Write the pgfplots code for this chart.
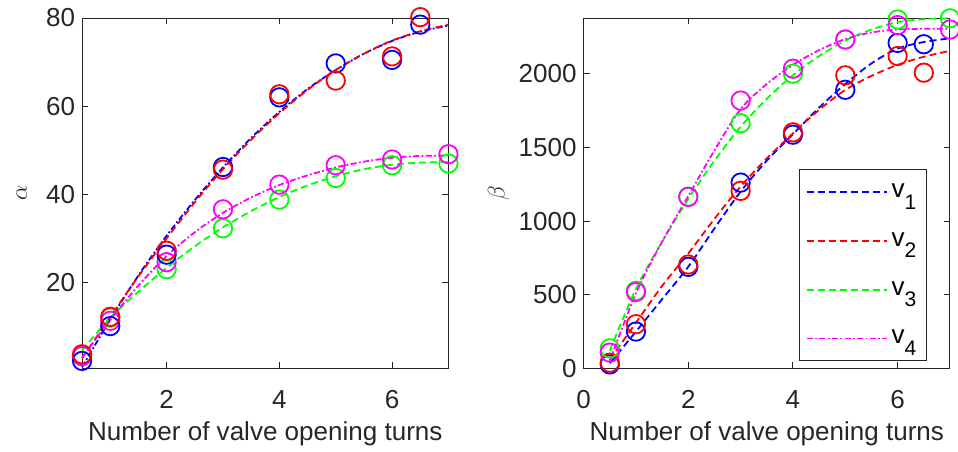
\documentclass[border=0pt]{standalone}
\usepackage{pgfplots}
\pgfplotsset{compat=1.18}
\usepackage{fontspec}
\setmainfont{Liberation Sans}

\definecolor{cblue}{RGB}{0,0,255}
\definecolor{cred}{RGB}{255,0,0}
\definecolor{cgreen}{RGB}{0,255,0}
\definecolor{cmag}{RGB}{255,0,255}
\definecolor{axgray}{RGB}{38,38,38}

\newcommand{\sub}[1]{\raisebox{-0.85ex}{\fontsize{10.5}{10.5}\selectfont #1}}

\tikzset{
  mdash/.style={dash pattern=on 3.5pt off 2pt},
  mdashdot/.style={dash pattern=on 3pt off 1.2pt on 0.9pt off 1.2pt},
}

\pgfplotsset{
  panel/.style={
    width=183pt, height=175pt, scale only axis,
    axis line style={draw=axgray, line width=0.5pt},
    every tick/.style={axgray, line width=0.5pt},
    tick align=inside, major tick length=3pt,
    ticklabel style={font=\fontsize{13}{15}\selectfont, text=axgray},
    xticklabel style={yshift=-7.5pt},
    /pgf/number format/assume math mode=true,
    /pgf/number format/1000 sep={},
    scaled ticks=false,
    xlabel={Number of valve opening turns},
    xlabel style={font=\fontsize{13}{15}\selectfont, text=axgray, yshift=0.5pt},
    ylabel style={font=\fontsize{13}{15}\selectfont, text=axgray},
    clip=false,
  },
  pts/.style={only marks, mark=o, mark size=4.6pt, line width=0.9pt},
  fit/.style={no marks, line width=0.9pt, smooth},
}

\begin{document}
\begin{tikzpicture}
% ---------- alpha ----------
\begin{axis}[panel,
  xmin=0.5, xmax=7, ymin=0.5, ymax=80,
  xtick={2,4,6}, ytick={20,40,60,80},
  ylabel={$\alpha$},
  ylabel style={at={(axis description cs:-0.165,0.5)}, anchor=center},
]
% fits
\addplot[fit, cblue, mdashdot] coordinates {(0.5,0.8)(1,11.6)(1.5,21.6)(2,30.6)(2.5,38.7)(3,46.1)(3.5,52.8)(4,58.7)(4.5,63.9)(5,68.2)(5.5,71.9)(6,74.8)(6.5,76.9)(7,78.3)};
\addplot[fit, cred, mdash] coordinates {(0.5,2.8)(1,12.2)(1.5,21.4)(2,30.0)(2.5,38.2)(3,45.7)(3.5,52.4)(4,58.4)(4.5,63.7)(5,68.2)(5.5,71.9)(6,74.9)(6.5,77.0)(7,78.5)};
\addplot[fit, cgreen, mdash] coordinates {(0.5,4.6)(1,12.0)(1.5,17.9)(2,23.3)(2.5,28.2)(3,32.5)(3.5,36.2)(4,39.4)(4.5,42.0)(5,44.1)(5.5,45.7)(6,46.7)(6.5,47.2)(7,47.3)};
\addplot[fit, cmag, mdashdot] coordinates {(0.5,3.0)(1,11.5)(1.5,19.3)(2,26.0)(2.5,31.4)(3,35.8)(3.5,39.3)(4,42.1)(4.5,44.3)(5,46.1)(5.5,47.4)(6,48.3)(6.5,48.7)(7,48.8)};
% measurements
\addplot[pts, cgreen] coordinates {(0.5,3.3)(1,12.0)(2,23.0)(3,32.3)(4,38.8)(5,43.7)(6,46.6)(7,47.0)};
\addplot[pts, cmag] coordinates {(0.5,3.3)(1,11.3)(2,24.6)(3,36.6)(4,42.2)(5,46.6)(6,47.9)(7,49.1)};
\addplot[pts, cblue] coordinates {(0.5,2.2)(1,10.1)(2,26.3)(3,46.2)(4,62.0)(5,69.7)(6,70.5)(6.5,78.5)};
\addplot[pts, cred] coordinates {(0.5,3.7)(1,12.2)(2,27.2)(3,45.6)(4,62.7)(5,65.8)(6,71.3)(6.5,80.2)};
\end{axis}

% ---------- beta ----------
\begin{axis}[panel, at={(250.5pt,0pt)},
  xmin=0, xmax=7, ymin=0, ymax=2378,
  xtick={0,2,4,6}, ytick={0,500,1000,1500,2000},
  ylabel={$\beta$},
  ylabel style={at={(axis description cs:-0.232,0.5)}, anchor=center},
  legend style={at={(rel axis cs:0.937,0.02)}, anchor=south east,
    draw=axgray, line width=0.5pt, fill=white,
    font=\fontsize{13}{15}\selectfont, text=black,
    inner xsep=3pt, inner ysep=5pt, row sep=12pt},
  legend cell align=left,
  legend image code/.code={\draw[#1] (0pt,0pt) -- (40pt,0pt);},
]
\addplot[fit, cblue, mdash] coordinates {(0.5,35)(1,250)(1.5,470)(2,690)(2.5,950)(3,1200)(3.5,1410)(4,1590)(4.5,1770)(5,1930)(5.5,2070)(6,2170)(6.5,2215)(7,2240)};
\addlegendentry{v\sub{1}}
\addplot[fit, cred, mdash] coordinates {(0.5,57)(1,310)(1.5,560)(2,780)(2.5,1015)(3,1235)(3.5,1425)(4,1595)(4.5,1755)(5,1890)(5.5,1985)(6,2060)(6.5,2115)(7,2155)};
\addlegendentry{v\sub{2}}
\addplot[fit, cgreen, mdash] coordinates {(0.5,120)(1,540)(1.5,860)(2,1150)(2.5,1410)(3,1640)(3.5,1830)(4,1990)(4.5,2120)(5,2225)(5.5,2300)(6,2350)(6.5,2370)(7,2376)};
\addlegendentry{v\sub{3}}
\addplot[fit, cmag, mdashdot] coordinates {(0.5,50)(1,510)(1.5,860)(2,1170)(2.5,1480)(3,1760)(3.5,1930)(4,2060)(4.5,2160)(5,2235)(5.5,2280)(6,2300)(6.5,2305)(7,2305)};
\addlegendentry{v\sub{4}}
\addplot[pts, cblue, forget plot] coordinates {(0.5,27)(1,250)(2,689)(3,1261)(4,1586)(5,1891)(6,2209)(6.5,2200)};
\addplot[pts, cred, forget plot] coordinates {(0.5,39)(1,300)(2,705)(3,1205)(4,1602)(5,1989)(6,2120)(6.5,2007)};
\addplot[pts, cgreen, forget plot] coordinates {(0.5,136)(1,527)(2,1166)(3,1664)(4,2000)(5,2232)(6,2368)(7,2376)};
\addplot[pts, cmag, forget plot] coordinates {(0.5,107)(1,518)(2,1164)(3,1818)(4,2034)(5,2232)(6,2330)(7,2300)};
\end{axis}
\pgfresetboundingbox
\useasboundingbox (-41pt,-41.5pt) rectangle (437.5pt,184pt);
\end{tikzpicture}
\end{document}
